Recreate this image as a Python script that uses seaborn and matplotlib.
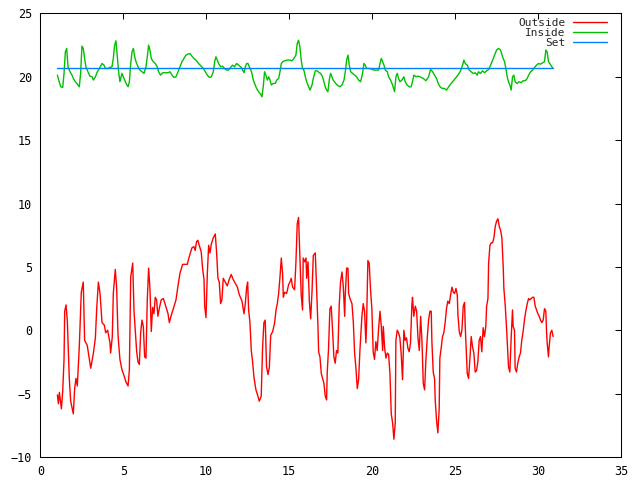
import matplotlib
matplotlib.use("Agg")
import matplotlib.pyplot as plt
import seaborn as sns

# ==============================
# Data
# ==============================
outside_day = [
    1.03, 1.09, 1.15, 1.27, 1.35, 1.43, 1.47, 1.55, 1.63, 1.69, 1.75, 1.83, 1.99, 2.07, 2.15, 2.23,
    2.35, 2.47, 2.59, 2.67, 2.83, 2.96, 3.04, 3.20, 3.32, 3.40, 3.50, 3.60, 3.72, 3.86, 3.94, 4.06,
    4.20, 4.24, 4.34, 4.40, 4.52, 4.60, 4.68, 4.72, 4.80, 4.92, 5.05, 5.17, 5.29, 5.37, 5.45, 5.57,
    5.65, 5.73, 5.81, 5.89, 5.97, 6.05, 6.13, 6.21, 6.29, 6.37, 6.45, 6.53, 6.61, 6.69, 6.77, 6.85,
    6.93, 7.01, 7.09, 7.17, 7.29, 7.42, 7.54, 7.70, 7.78, 7.90, 8.02, 8.18, 8.30, 8.42, 8.58, 8.74,
    8.86, 8.98, 9.14, 9.26, 9.34, 9.42, 9.50, 9.58, 9.70, 9.79, 9.87, 9.91, 9.99, 10.07, 10.15, 10.23,
    10.31, 10.43, 10.55, 10.63, 10.71, 10.79, 10.87, 10.95, 11.03, 11.15, 11.27, 11.39, 11.51, 11.63,
    11.76, 11.88, 12.00, 12.16, 12.28, 12.36, 12.44, 12.50, 12.56, 12.64, 12.72, 12.80, 12.88, 13.00,
    13.12, 13.20, 13.32, 13.40, 13.48, 13.56, 13.64, 13.73, 13.81, 13.89, 14.01, 14.13, 14.21, 14.29,
    14.37, 14.45, 14.53, 14.61, 14.65, 14.73, 14.85, 14.97, 15.05, 15.13, 15.21, 15.33, 15.41, 15.49,
    15.57, 15.65, 15.73, 15.81, 15.85, 15.94, 16.02, 16.06, 16.14, 16.22, 16.30, 16.38, 16.46, 16.58,
    16.66, 16.74, 16.78, 16.86, 16.94, 17.02, 17.10, 17.18, 17.26, 17.30, 17.38, 17.46, 17.54, 17.62,
    17.70, 17.78, 17.86, 17.94, 18.02, 18.10, 18.19, 18.27, 18.35, 18.39, 18.47, 18.55, 18.59, 18.67,
    18.79, 18.87, 18.95, 19.03, 19.11, 19.19, 19.27, 19.39, 19.47, 19.55, 19.63, 19.67, 19.75, 19.83,
    19.91, 19.99, 20.07, 20.15, 20.23, 20.31, 20.40, 20.48, 20.56, 20.64, 20.68, 20.76, 20.84, 20.92,
    21.00, 21.08, 21.16, 21.24, 21.32, 21.40, 21.44, 21.52, 21.60, 21.68, 21.76, 21.84, 21.92, 22.00,
    22.08, 22.16, 22.24, 22.32, 22.40, 22.44, 22.52, 22.61, 22.69, 22.77, 22.85, 22.93, 23.01, 23.09,
    23.17, 23.25, 23.33, 23.41, 23.49, 23.57, 23.61, 23.69, 23.77, 23.81, 23.89, 23.97, 24.05, 24.09,
    24.17, 24.25, 24.33, 24.41, 24.49, 24.57, 24.66, 24.74, 24.82, 24.90, 24.98, 25.06, 25.14, 25.18,
    25.26, 25.34, 25.42, 25.50, 25.58, 25.62, 25.66, 25.74, 25.82, 25.90, 25.98, 26.06, 26.14, 26.22,
    26.30, 26.38, 26.46, 26.54, 26.62, 26.70, 26.78, 26.86, 26.91, 26.99, 27.03, 27.11, 27.19, 27.27,
    27.35, 27.43, 27.51, 27.59, 27.67, 27.75, 27.83, 27.91, 27.95, 28.03, 28.11, 28.19, 28.23, 28.31,
    28.39, 28.47, 28.51, 28.59, 28.63, 28.71, 28.79, 28.87, 28.95, 29.03, 29.11, 29.19, 29.27, 29.36,
    29.44, 29.52, 29.60, 29.68, 29.76, 29.84, 29.92, 30.00, 30.08, 30.16, 30.24, 30.32, 30.40, 30.48,
    30.52, 30.56, 30.64, 30.68, 30.76, 30.84, 30.92,
]
outside_temp = [
    -5.1, -5.8, -4.9, -6.2, -4.8, -2.3, 1.5, 2.0, 0.7, -1.7, -3.9, -5.6, -6.6, -4.6, -3.8, -4.4,
    -1.3, 3.0, 3.8, -0.8, -1.2, -2.3, -3.0, -1.8, -0.6, 1.7, 3.8, 2.9, 0.6, 0.4, -0.2, 0.0,
    -1.0, -1.8, -0.5, 2.9, 4.8, 3.4, -0.2, -1.0, -2.3, -3.1, -3.6, -4.1, -4.4, -3.1, 4.2, 5.3,
    1.5, -0.1, -1.7, -2.5, -2.7, -0.2, 0.8, 0.3, -2.1, -2.2, 2.4, 4.9, 3.3, -0.1, 1.8, 1.3,
    2.6, 2.4, 1.1, 1.7, 2.4, 2.5, 2.0, 1.3, 0.6, 1.2, 1.7, 2.4, 3.5, 4.5, 5.2, 5.2,
    5.2, 5.8, 6.5, 6.6, 6.3, 7.0, 7.1, 6.7, 6.2, 4.8, 4.0, 1.9, 1.0, 4.5, 6.7, 6.1,
    6.8, 7.3, 7.6, 6.1, 4.1, 3.8, 2.1, 2.4, 4.1, 3.8, 3.5, 4.0, 4.4, 4.0,
    3.7, 3.4, 2.8, 2.3, 1.3, 2.1, 3.4, 3.8, 1.6, 0.6, -1.6, -2.5, -3.7, -4.7,
    -5.2, -5.6, -5.2, -1.4, 0.6, 0.8, -2.9, -3.5, -2.9, -0.4, -0.1, 0.6, 1.6, 2.1,
    2.9, 4.2, 5.7, 4.4, 2.6, 3.0, 2.9, 3.6, 3.8, 4.1, 3.4, 3.2, 5.3, 8.4,
    8.9, 5.9, 2.8, 1.6, 5.7, 5.4, 5.7, 4.1, 5.4, 2.3, 0.9, 3.0, 5.9, 6.1,
    3.3, 0.3, -1.7, -2.1, -3.4, -3.8, -4.2, -5.2, -5.5, -3.3, -1.4, 1.7, 1.9, 0.0,
    -2.1, -2.6, -1.6, -1.8, 1.9, 3.8, 4.6, 3.4, 1.1, 2.9, 4.9, 4.9, 2.9, 2.5,
    2.1, 0.7, -1.8, -3.0, -4.6, -3.9, -1.6, 1.1, 2.1, 1.5, -1.0, 0.4, 5.5, 5.3,
    3.2, 1.7, -1.7, -2.3, -0.9, -1.6, 0.2, 1.5, 0.3, -1.6, 0.3, -1.4, -2.2, -1.8,
    -1.9, -3.4, -6.6, -7.3, -8.6, -7.3, -0.8, 0.0, -0.2, -0.6, -1.9, -3.9, 0.0, -0.8,
    -0.6, -1.4, -1.7, -1.0, 1.9, 2.6, 1.1, 1.9, 1.5, -0.6, -1.6, 1.1, -0.8, -4.2,
    -4.7, -2.3, -0.6, 0.8, 1.5, 1.5, -0.9, -3.3, -3.8, -5.5, -7.1, -8.1, -6.2, -2.2,
    -1.4, -0.5, -0.2, 0.6, 1.7, 2.3, 2.1, 2.8, 3.4, 3.0, 2.9, 3.3, 2.8, 1.2,
    -0.1, -0.5, 0.0, 1.9, 2.2, 0.3, -1.0, -3.4, -3.8, -2.3, -0.5, -1.3, -1.8, -3.3,
    -3.2, -2.5, -0.8, -0.5, -1.7, 0.2, -0.5, 0.3, 1.9, 2.5, 5.3, 6.7, 6.9, 6.9,
    7.3, 8.2, 8.6, 8.8, 8.2, 7.9, 7.3, 5.0, 3.3, 2.0, 0.2, -1.8, -2.9, -3.3,
    -0.6, 1.6, 0.3, 0.0, -3.0, -3.3, -2.6, -2.1, -1.8, -0.8, -0.1, 0.8, 1.5, 2.1,
    2.5, 2.4, 2.5, 2.6, 2.6, 1.9, 1.6, 1.3, 1.1, 0.8, 0.6, 0.8, 1.7, 1.5,
    0.0, -1.0, -2.1, -1.3, -0.2, 0.0, -0.5,
]

inside_day = [
    1.03, 1.11, 1.23, 1.35, 1.43, 1.51, 1.59, 1.67, 1.79, 1.91, 1.99, 2.11, 2.23, 2.35, 2.43, 2.51,
    2.59, 2.67, 2.75, 2.87, 2.99, 3.12, 3.20, 3.32, 3.44, 3.56, 3.72, 3.84, 3.92, 4.08, 4.20, 4.32,
    4.40, 4.48, 4.56, 4.64, 4.72, 4.80, 4.92, 5.05, 5.17, 5.29, 5.37, 5.45, 5.53, 5.61, 5.69, 5.77,
    5.89, 6.01, 6.13, 6.25, 6.37, 6.45, 6.53, 6.61, 6.69, 6.81, 6.93, 7.05, 7.13, 7.25, 7.38, 7.54,
    7.70, 7.82, 7.94, 8.06, 8.18, 8.30, 8.42, 8.54, 8.66, 8.78, 8.90, 9.02, 9.14, 9.26, 9.38, 9.54,
    9.70, 9.83, 9.95, 10.07, 10.19, 10.31, 10.43, 10.51, 10.59, 10.67, 10.75, 10.87, 10.99, 11.11,
    11.23, 11.35, 11.47, 11.59, 11.71, 11.84, 11.96, 12.12, 12.20, 12.28, 12.36, 12.44, 12.52, 12.60,
    12.68, 12.76, 12.84, 12.96, 13.04, 13.16, 13.28, 13.36, 13.44, 13.52, 13.60, 13.69, 13.77, 13.85,
    13.93, 14.05, 14.17, 14.25, 14.37, 14.45, 14.53, 14.61, 14.73, 14.89, 15.05, 15.17, 15.29, 15.41,
    15.49, 15.57, 15.65, 15.73, 15.81, 15.89, 15.98, 16.06, 16.18, 16.26, 16.38, 16.46, 16.58, 16.70,
    16.82, 16.90, 17.02, 17.10, 17.18, 17.26, 17.34, 17.42, 17.50, 17.58, 17.66, 17.78, 17.90, 18.06,
    18.19, 18.31, 18.39, 18.47, 18.55, 18.63, 18.71, 18.83, 18.95, 19.07, 19.19, 19.31, 19.43, 19.51,
    19.59, 19.67, 19.87, 20.11, 20.40, 20.48, 20.56, 20.64, 20.72, 20.80, 20.92, 21.00, 21.12, 21.24,
    21.36, 21.44, 21.52, 21.60, 21.68, 21.80, 21.92, 22.00, 22.12, 22.24, 22.36, 22.44, 22.52, 22.65,
    22.77, 22.89, 23.09, 23.25, 23.41, 23.53, 23.65, 23.77, 23.89, 24.01, 24.13, 24.25, 24.37, 24.49,
    24.62, 24.74, 24.86, 24.98, 25.10, 25.22, 25.34, 25.46, 25.54, 25.62, 25.74, 25.86, 25.98, 26.10,
    26.22, 26.34, 26.42, 26.54, 26.66, 26.78, 26.91, 27.03, 27.15, 27.27, 27.39, 27.51, 27.63, 27.75,
    27.87, 27.99, 28.07, 28.15, 28.23, 28.31, 28.39, 28.47, 28.55, 28.63, 28.75, 28.87, 28.99, 29.11,
    29.24, 29.36, 29.44, 29.56, 29.68, 29.80, 29.92, 30.04, 30.16, 30.28, 30.40, 30.48, 30.56, 30.64,
    30.72, 30.84, 30.92,
]
inside_temp = [
    20.13, 19.74, 19.21, 19.16, 20.27, 21.97, 22.24, 20.79, 20.40, 20.13, 19.87, 19.61, 19.42, 19.21, 20.27, 22.42,
    22.24, 21.45, 20.79, 20.40, 20.05, 20.00, 19.74, 20.00, 20.40, 20.66, 21.05, 20.92, 20.66, 20.66, 20.74, 20.79,
    21.45, 22.50, 22.84, 21.58, 20.40, 19.61, 20.27, 19.87, 19.48, 19.21, 19.61, 21.05, 21.97, 22.24, 21.58, 21.19,
    20.79, 20.53, 20.40, 20.27, 20.79, 21.58, 22.50, 22.11, 21.45, 21.19, 21.05, 20.79, 20.40, 20.13, 20.32, 20.32,
    20.32, 20.40, 20.13, 19.95, 20.00, 20.40, 20.79, 21.19, 21.45, 21.71, 21.79, 21.84, 21.63, 21.45, 21.32, 21.05,
    20.84, 20.66, 20.40, 20.13, 19.95, 20.00, 20.40, 21.19, 21.58, 21.32, 21.05, 20.79, 20.84, 20.66,
    20.53, 20.53, 20.74, 20.92, 20.79, 21.05, 20.92, 20.74, 20.53, 20.32, 20.79, 21.05, 21.05, 20.79,
    20.58, 20.27, 19.74, 19.35, 19.08, 18.82, 18.63, 18.42, 19.21, 20.40, 20.13, 19.74, 20.00, 19.74,
    19.35, 19.48, 19.48, 19.74, 19.87, 20.40, 21.05, 21.19, 21.26, 21.32, 21.32, 21.26, 21.45, 21.71,
    22.63, 22.89, 22.37, 21.32, 20.66, 20.53, 20.00, 19.61, 19.21, 18.95, 19.35, 19.87, 20.47, 20.47,
    20.32, 20.27, 20.00, 19.61, 19.21, 18.95, 18.82, 19.74, 20.27, 20.00, 19.74, 19.53, 19.35, 19.21,
    19.35, 19.74, 20.40, 21.32, 21.71, 20.92, 20.40, 20.27, 20.13, 20.00, 19.74, 19.61, 20.27, 21.05,
    20.92, 20.66, 20.66, 20.53, 20.53, 21.05, 21.45, 21.19, 20.92, 20.53, 20.40, 20.00, 19.74, 19.35,
    18.82, 20.00, 20.27, 19.87, 19.61, 19.74, 20.00, 19.61, 19.35, 19.21, 19.21, 19.61, 20.13, 20.00,
    20.05, 20.00, 19.87, 19.69, 20.00, 20.58, 20.40, 20.13, 19.87, 19.42, 19.16, 19.08, 19.08, 18.95,
    19.21, 19.42, 19.61, 19.79, 20.00, 20.21, 20.47, 20.92, 21.32, 21.05, 20.92, 20.53, 20.40, 20.26,
    20.32, 20.13, 20.40, 20.26, 20.47, 20.32, 20.47, 20.58, 20.92, 21.32, 21.71, 22.11, 22.24, 22.11,
    21.58, 21.19, 20.66, 20.00, 19.61, 19.35, 18.95, 20.00, 20.13, 19.61, 19.47, 19.61, 19.53, 19.69,
    19.69, 19.87, 20.13, 20.40, 20.53, 20.74, 20.92, 21.05, 21.00, 21.10, 21.19, 22.11, 21.97, 21.19,
    21.05, 20.79, 20.66,
]

set_day = [1.03, 30.92]
set_temp = [20.66, 20.66]

# ==============================
# Plot
# ==============================
sns.set_style("white")
plt.rcParams["font.family"] = ["DejaVu Sans Mono"]

fig = plt.figure(figsize=(6.4, 4.8), dpi=100)
ax = fig.add_axes([0.063, 0.048, 0.907, 0.924])

sns.lineplot(x=outside_day, y=outside_temp, color="#ff0000", lw=1, label="Outside",
             ax=ax, estimator=None, sort=False)
sns.lineplot(x=inside_day, y=inside_temp, color="#00c000", lw=1, label="Inside",
             ax=ax, estimator=None, sort=False)
sns.lineplot(x=set_day, y=set_temp, color="#0080ff", lw=1, label="Set",
             ax=ax, estimator=None, sort=False)

ax.set_xlim(0, 35)
ax.set_ylim(-10, 25)
ax.set_xticks(range(0, 36, 5))
ax.set_yticks(range(-10, 26, 5))
ax.set_xlabel("")
ax.set_ylabel("")
ax.tick_params(direction="in", top=True, right=True, length=4.3, width=0.75,
               labelsize=8.5, pad=6, colors="black")
for s in ax.spines.values():
    s.set_visible(True)
    s.set_color("black")
    s.set_linewidth(0.75)

# gnuplot-style key: labels right-aligned, sample line after the text
leg = ax.legend(loc="upper right", bbox_to_anchor=(0.9764, 0.9905), frameon=False,
                markerfirst=False, fontsize=8, handlelength=3.1, handletextpad=0.65,
                borderpad=0, borderaxespad=0, labelspacing=0.0)
for col in leg._legend_handle_box.get_children():
    col.align = "right"

fig.savefig("out.png", dpi=100)
